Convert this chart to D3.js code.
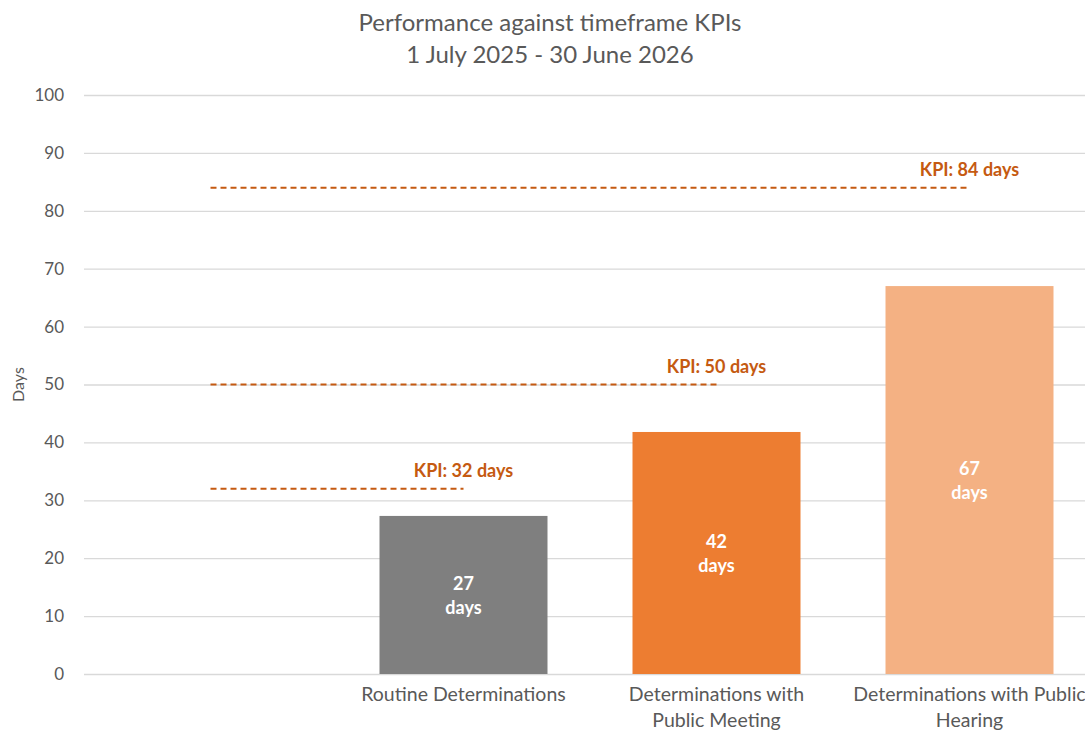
<!DOCTYPE html>
<html>
<head>
<meta charset="utf-8">
<script src="https://cdn.jsdelivr.net/npm/d3@7"></script>
<style>
  body { margin: 0; background: #fff; }
  svg { font-family: Lato, "Open Sans", sans-serif; }
</style>
</head>
<body>
<div id="main"></div>
<script>
// Chart data
const categories = ['', 'Routine Determinations', 'Determinations with Public Meeting', 'Determinations with Public Hearing'];
const categoryLines = [[], ['Routine Determinations'], ['Determinations with', 'Public Meeting'], ['Determinations with Public', 'Hearing']];
const values = [null, 27.3, 41.8, 67];
const valueLabels = ['', '27', '42', '67'];
const barColors = ['none', '#7f7f7f', '#ed7d31', '#f4b183'];
const kpiValues = [32, 50, 84];
const kpiEndCategory = [1, 2, 3];
const yTicks = [0, 10, 20, 30, 40, 50, 60, 70, 80, 90, 100];

// Size of the SVG
let w = 1085;
let h = 731;
const margin = { top: 95, left: 84, bottom: 57 };

const svg = d3
  .select('div#main')
  .append('svg')
  .attr('width', w)
  .attr('height', h);

const x = d3
  .scaleBand()
  .domain(categories)
  .range([margin.left, 1096])
  .paddingInner(0.336)
  .paddingOuter(0.168);

const y = d3.scaleLinear().domain([0, 100]).range([h - margin.bottom, margin.top]);

const center = (c) => x(c) + x.bandwidth() / 2;

// Title
svg
  .append('text')
  .attr('x', 550)
  .attr('text-anchor', 'middle')
  .attr('fill', '#595959')
  .style('font-size', '24px')
  .selectAll('tspan')
  .data(['Performance against timeframe KPIs', '1 July 2025 - 30 June 2026'])
  .join('tspan')
  .attr('x', 550)
  .attr('y', (d, i) => 31 + i * 32)
  .text((d) => d);

// Gridlines + y axis labels
const yAxis = svg
  .append('g')
  .attr('transform', `translate(${margin.left},0)`)
  .call(d3.axisLeft(y).tickValues(yTicks).tickSize(-(w - margin.left)).tickPadding(20));
yAxis.select('.domain').remove();
yAxis.selectAll('.tick line').attr('stroke', '#d9d9d9').attr('stroke-width', 1.3);
yAxis
  .selectAll('.tick text')
  .attr('fill', '#595959')
  .style('font-size', '17px')
  .style('font-family', 'Lato, "Open Sans", sans-serif');

// y axis title
svg
  .append('text')
  .attr('transform', `translate(24,${y(50)}) rotate(-90)`)
  .attr('text-anchor', 'middle')
  .attr('fill', '#595959')
  .style('font-size', '16px')
  .text('Days');

// Bars
const barData = categories.map((c, i) => ({ c, v: values[i], label: valueLabels[i], color: barColors[i] })).filter((d) => d.v != null);

svg
  .append('g')
  .selectAll('rect')
  .data(barData)
  .join('rect')
  .attr('x', (d) => x(d.c))
  .attr('y', (d) => y(d.v))
  .attr('width', x.bandwidth())
  .attr('height', (d) => y(0) - y(d.v))
  .attr('fill', (d) => d.color);

// Bar value labels
svg
  .append('g')
  .selectAll('text')
  .data(barData)
  .join('text')
  .attr('text-anchor', 'middle')
  .attr('fill', '#fff')
  .style('font-size', '18px')
  .style('font-weight', 'bold')
  .each(function (d) {
    const mid = (y(d.v) + y(0)) / 2;
    const t = d3.select(this);
    t.append('tspan').attr('x', center(d.c)).attr('y', mid - 5).text(d.label);
    t.append('tspan').attr('x', center(d.c)).attr('y', mid + 19).text('days');
  });

// KPI dashed lines
const kpiData = kpiValues.map((v, i) => ({ v, end: categories[kpiEndCategory[i]] }));

svg
  .append('g')
  .selectAll('line')
  .data(kpiData)
  .join('line')
  .attr('x1', center(categories[0]))
  .attr('x2', (d) => center(d.end))
  .attr('y1', (d) => y(d.v))
  .attr('y2', (d) => y(d.v))
  .attr('stroke', '#c55a11')
  .attr('stroke-width', 2)
  .attr('stroke-dasharray', '6,4');

svg
  .append('g')
  .selectAll('text')
  .data(kpiData)
  .join('text')
  .attr('x', (d) => center(d.end))
  .attr('y', (d) => y(d.v) - 12)
  .attr('text-anchor', 'middle')
  .attr('fill', '#c55a11')
  .style('font-size', '18px')
  .style('font-weight', 'bold')
  .text((d) => `KPI: ${d.v} days`);

// Category labels
svg
  .append('g')
  .selectAll('text')
  .data(categories.map((c, i) => ({ c, lines: categoryLines[i] })))
  .join('text')
  .attr('text-anchor', 'middle')
  .attr('fill', '#595959')
  .style('font-size', '19.5px')
  .each(function (d) {
    d3.select(this)
      .selectAll('tspan')
      .data(d.lines)
      .join('tspan')
      .attr('x', center(d.c))
      .attr('y', (l, i) => y(0) + 27 + i * 26)
      .text((l) => l);
  });
</script>
</body>
</html>
